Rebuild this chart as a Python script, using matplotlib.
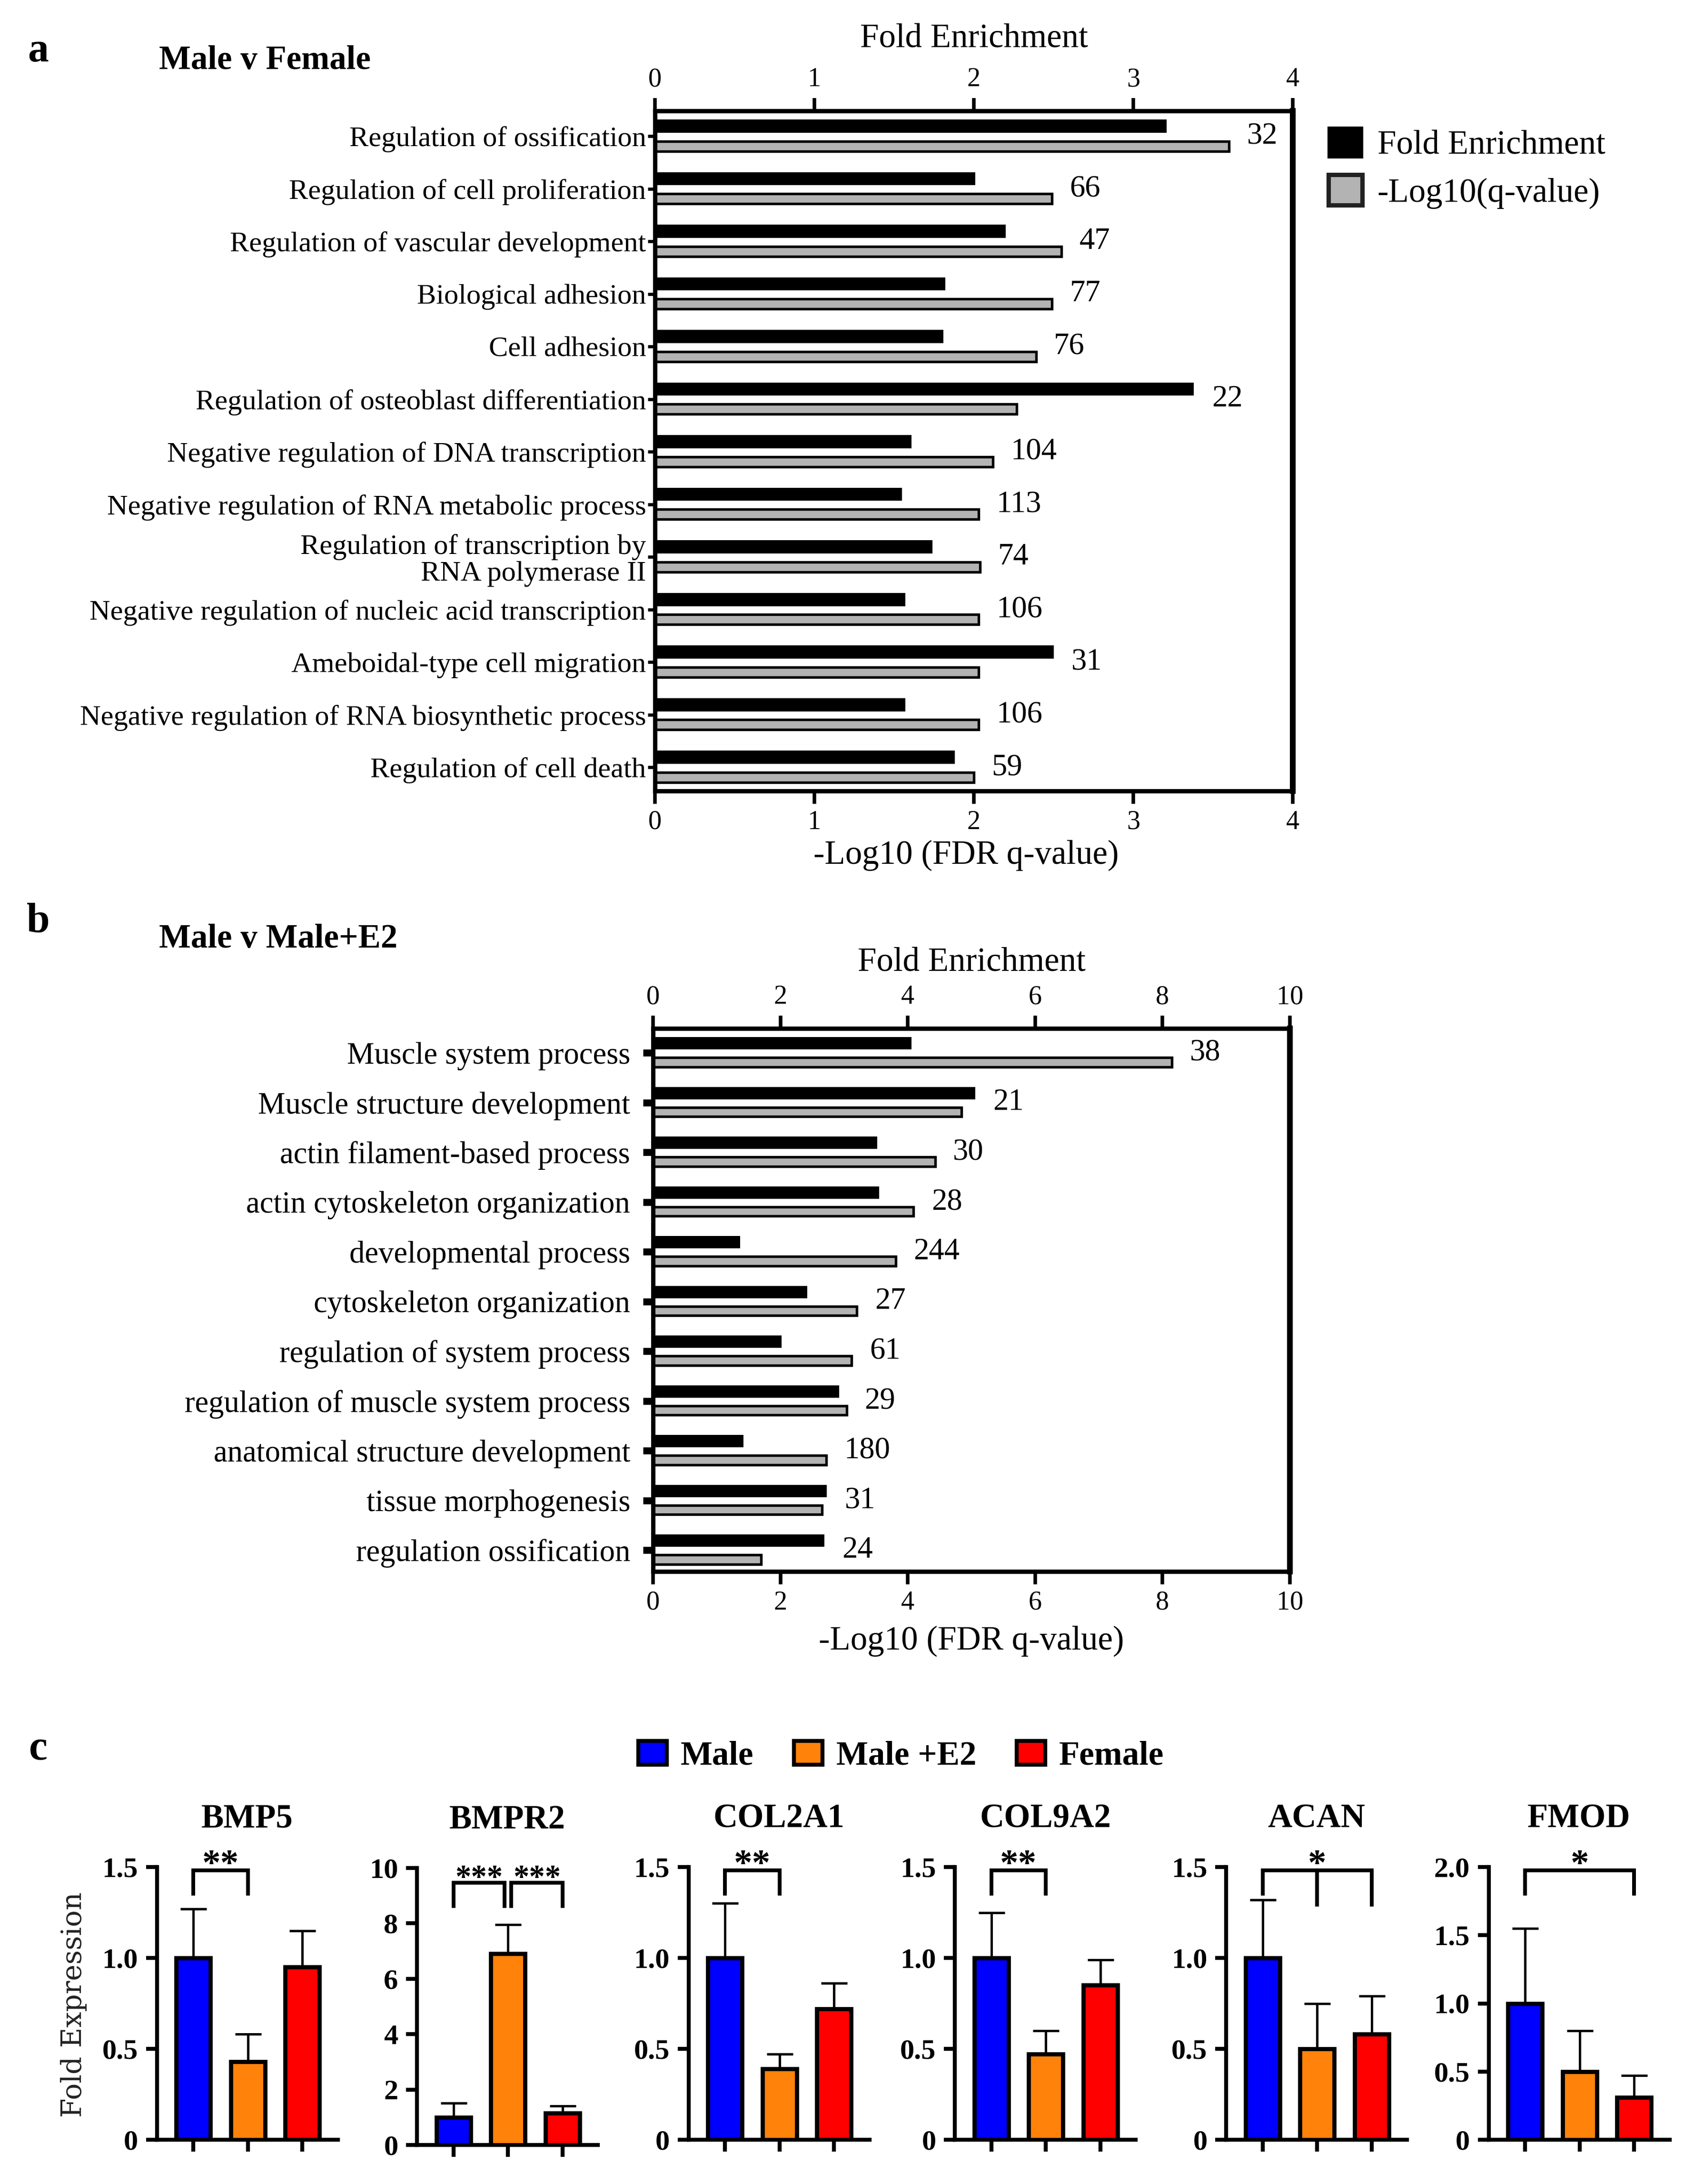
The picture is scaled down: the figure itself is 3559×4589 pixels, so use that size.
import matplotlib
matplotlib.use("Agg")
import matplotlib.pyplot as plt
from matplotlib.patches import Patch
import numpy as np

W, H = 3559, 4589
DPI = 300
SERIF = ["Liberation Serif", "DejaVu Serif"]
plt.rcParams["font.family"] = SERIF

# ---- panel a: Male v Female (GO terms) ----
terms_a = [
    "Regulation of ossification",
    "Regulation of cell proliferation",
    "Regulation of vascular development",
    "Biological adhesion",
    "Cell adhesion",
    "Regulation of osteoblast differentiation",
    "Negative regulation of DNA transcription",
    "Negative regulation of RNA metabolic process",
    "Regulation of transcription by\nRNA polymerase II",
    "Negative regulation of nucleic acid transcription",
    "Ameboidal-type cell migration",
    "Negative regulation of RNA biosynthetic process",
    "Regulation of cell death",
]
fold_a = [3.21, 2.01, 2.20, 1.82, 1.81, 3.38, 1.61, 1.55, 1.74, 1.57, 2.50, 1.57, 1.88]
logq_a = [3.60, 2.49, 2.55, 2.49, 2.39, 2.27, 2.12, 2.03, 2.04, 2.03, 2.03, 2.03, 2.00]
counts_a = [32, 66, 47, 77, 76, 22, 104, 113, 74, 106, 31, 106, 59]

# ---- panel b: Male v Male+E2 ----
terms_b = [
    "Muscle system process",
    "Muscle structure development",
    "actin filament-based process",
    "actin cytoskeleton organization",
    "developmental process",
    "cytoskeleton organization",
    "regulation of system process",
    "regulation of muscle system process",
    "anatomical structure development",
    "tissue morphogenesis",
    "regulation ossification",
]
fold_b = [4.06, 5.06, 3.52, 3.55, 1.37, 2.42, 2.02, 2.92, 1.42, 2.73, 2.69]
logq_b = [8.15, 4.84, 4.43, 4.09, 3.81, 3.20, 3.12, 3.04, 2.72, 2.65, 1.70]
counts_b = [38, 21, 30, 28, 244, 27, 61, 29, 180, 31, 24]

# ---- panel c: qPCR ----
genes = ["BMP5", "BMPR2", "COL2A1", "COL9A2", "ACAN", "FMOD"]
groups = ["Male", "Male +E2", "Female"]
means = [
    [1.00, 0.43, 0.95],
    [1.00, 6.90, 1.15],
    [1.00, 0.39, 0.72],
    [1.00, 0.47, 0.85],
    [1.00, 0.50, 0.58],
    [1.00, 0.50, 0.31],
]
errs = [
    [0.27, 0.15, 0.20],
    [0.52, 1.05, 0.26],
    [0.30, 0.08, 0.14],
    [0.25, 0.13, 0.14],
    [0.32, 0.25, 0.21],
    [0.55, 0.30, 0.16],
]
ymax_c = [1.5, 10, 1.5, 1.5, 1.5, 2.0]
ystep_c = [0.5, 2, 0.5, 0.5, 0.5, 0.5]
# significance: (reference group, compared groups, stars)
sig = [
    [(0, [1], "**")],
    [(0, [1], "***"), (1, [2], "***")],
    [(0, [1], "**")],
    [(0, [1], "**")],
    [(0, [1, 2], "*")],
    [(0, [2], "*")],
]

colors_c = ["#0000ff", "#ff820a", "#ff0000"]
GRAY = "#b3b3b3"

fig = plt.figure(figsize=(W / DPI, H / DPI), dpi=DPI)
fig.patch.set_facecolor("white")


def axes_px(x0, y0, x1, y1):
    return fig.add_axes([x0 / W, 1 - y1 / H, (x1 - x0) / W, (y1 - y0) / H])


def text_px(x, y, s, **kw):
    return fig.text(x / W, 1 - y / H, s, **kw)


def go_panel(ax, terms, fold, logq, counts, xmax, xstep, lab_pad, tick_len, tick_w, lab_size):
    y = np.arange(len(terms))
    ax.barh(y - 0.19, fold, height=0.25, color="black", edgecolor="none")
    ax.barh(y + 0.19, logq, height=0.19, color=GRAY, edgecolor="black", linewidth=1.3)
    ax.set_xlim(0, xmax)
    ax.set_ylim(len(terms) - 1 + 0.45, -0.48)
    ax.set_yticks(y)
    ax.set_yticklabels(terms, fontsize=lab_size, linespacing=1.05)
    ax.set_xticks(np.arange(0, xmax + 0.01, xstep))
    ax.tick_params(axis="x", top=True, labeltop=True, bottom=True, labelbottom=True,
                   direction="out", length=6.5, width=1.8, labelsize=13.5, pad=3)
    ax.tick_params(axis="y", length=tick_len, width=tick_w, pad=lab_pad)
    for s in ax.spines.values():
        s.set_linewidth(2.2)
    ax.spines["right"].set_linewidth(2.9)
    for yi, c, f, q in zip(y, counts, fold, logq):
        ax.annotate(str(c), xy=(max(f, q), yi), xytext=(9, 0), textcoords="offset points",
                    ha="left", va="center", fontsize=15.5)


# ---------------- panel a ----------------
ax_a = axes_px(1376, 233, 2716, 1662)
go_panel(ax_a, terms_a, fold_a, logq_a, counts_a, 4, 1, 1, 3.5, 1.6, 14.5)
text_px(2046, 82, "Fold Enrichment", ha="center", va="center", fontsize=17)
text_px(2030, 1797, "-Log10 (FDR q-value)", ha="center", va="center", fontsize=17)
text_px(80, 107, "a", ha="center", va="center", fontsize=21, fontweight="bold")
text_px(334, 127, "Male v Female", ha="left", va="center", fontsize=17, fontweight="bold")

fig.legend(handles=[Patch(facecolor="black", edgecolor="black"),
                    Patch(facecolor=GRAY, edgecolor="#222222", linewidth=2.2)],
           labels=["Fold Enrichment", "-Log10(q-value)"],
           loc="upper left", bbox_to_anchor=(2791 / W, 1 - 268 / H),
           frameon=False, fontsize=17, handlelength=1.0, handleheight=1.0,
           handletextpad=0.45, labelspacing=0.4, borderpad=0, borderaxespad=0)

# ---------------- panel b ----------------
ax_b = axes_px(1372, 2161, 2710, 3302)
go_panel(ax_b, terms_b, fold_b, logq_b, counts_b, 10, 2, 6.5, 5, 3.5, 15.5)
ax_b.set_ylim(len(terms_b) - 1 + 0.43, -0.49)
text_px(2041, 2023, "Fold Enrichment", ha="center", va="center", fontsize=17)
text_px(2041, 3448, "-Log10 (FDR q-value)", ha="center", va="center", fontsize=17)
text_px(80, 1937, "b", ha="center", va="center", fontsize=21, fontweight="bold")
text_px(334, 1973, "Male v Male+E2", ha="left", va="center", fontsize=17, fontweight="bold")

# ---------------- panel c ----------------
text_px(80, 3676, "c", ha="center", va="center", fontsize=21, fontweight="bold")
c_left = [329.5, 876, 1446.5, 2006, 2576, 3127.5]
c_top = [3923, 3925, 3923, 3923, 3923, 3923]
c_bot = [4496, 4507, 4496, 4496, 4496, 4496]
bracket_level = {"BMPR2": 0.947}

for i, gene in enumerate(genes):
    ax = axes_px(c_left[i], c_top[i], c_left[i] + 380, c_bot[i])
    x = np.arange(len(groups))
    ymax = ymax_c[i]
    ax.errorbar(x, means[i], yerr=[np.zeros(3), errs[i]], fmt="none", ecolor="black",
                elinewidth=1.2, capsize=6.6, capthick=1.2, zorder=2)
    ax.bar(x, means[i], width=0.63, color=colors_c, edgecolor="black", linewidth=2.1, zorder=3)
    ax.set_xlim(-0.67, 2.65)
    ax.set_ylim(0, ymax)
    ticks = np.arange(0, ymax + 1e-9, ystep_c[i])
    ax.set_yticks(ticks)
    ax.set_yticklabels(["0" if t == 0 else (f"{t:.1f}" if ystep_c[i] < 1 else f"{t:.0f}")
                        for t in ticks])
    ax.set_xticks(x)
    ax.set_xticklabels([])
    for lab in ax.get_yticklabels():
        lab.set_fontweight("bold")
        lab.set_fontsize(14.5)
    ax.tick_params(axis="y", length=5.5, width=2, pad=4)
    ax.tick_params(axis="x", length=6, width=2)
    for side in ["top", "right"]:
        ax.spines[side].set_visible(False)
    for side in ["left", "bottom"]:
        ax.spines[side].set_linewidth(2)
    ax.set_title(gene, fontsize=17, fontweight="bold", pad=20)

    level = bracket_level.get(gene, 0.988) * ymax
    for ref, others, stars in sig[i]:
        right = max(others)
        gap = 0.06 if len(sig[i]) > 1 else 0.0
        xl = ref + (gap if ref > 0 else 0)
        xr = right - (gap if right < len(groups) - 1 else 0)
        leg = level - 0.085 * ymax
        ax.plot([xl, xl, xr, xr], [leg, level, level, leg], color="black", lw=1.9,
                clip_on=False, solid_joinstyle="miter")
        if len(others) > 1:
            ax.plot([xr, xr], [level, level - 0.125 * ymax], color="black", lw=1.9, clip_on=False)
            for o in others[:-1]:
                ax.plot([o, o], [level, level - 0.125 * ymax], color="black", lw=1.9, clip_on=False)
        ax.annotate(stars, xy=((xl + xr) / 2, level), xytext=(0, -2), textcoords="offset points",
                    ha="center", va="baseline", fontsize=18.5 if len(stars) < 3 else 16,
                    fontweight="bold", annotation_clip=False)
    if i == 0:
        text_px(155, 4212, "Fold Expression", rotation=90, ha="center", va="center",
                fontsize=14, family="DejaVu Serif", color="#222222")

fig.legend(handles=[Patch(facecolor=c, edgecolor="black", linewidth=2) for c in colors_c],
           labels=groups, ncol=3, loc="center left", bbox_to_anchor=(1341 / W, 1 - 3690 / H),
           frameon=False, prop={"family": SERIF, "weight": "bold", "size": 17},
           handlelength=0.85, handleheight=0.7, handletextpad=0.4, columnspacing=1.2,
           borderpad=0, borderaxespad=0)

fig.savefig("out.png", dpi=DPI, facecolor="white")
